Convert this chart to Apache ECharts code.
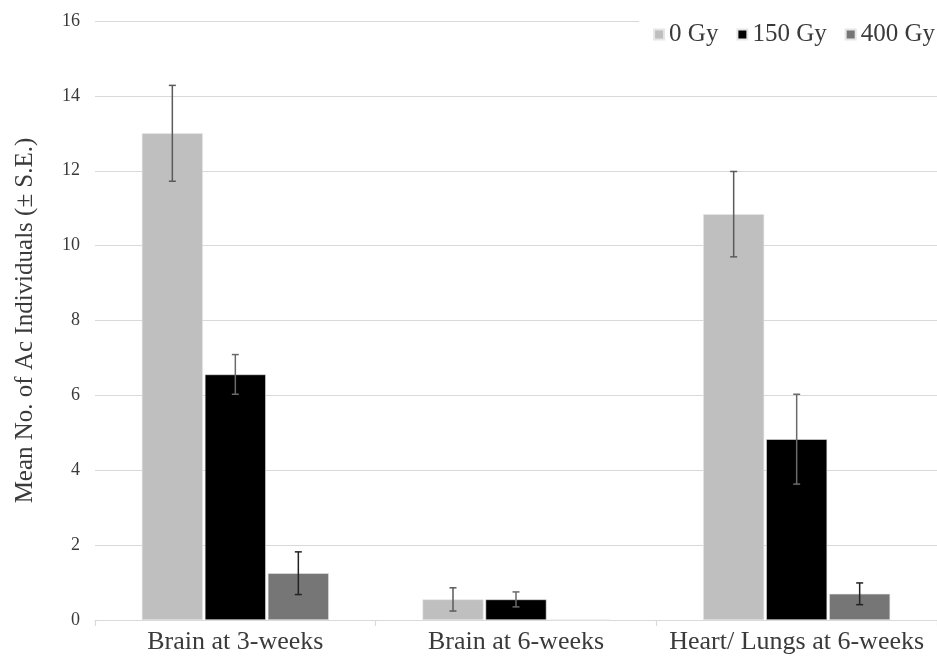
<!DOCTYPE html>
<html><head><meta charset="utf-8">
<script src="https://cdn.jsdelivr.net/npm/echarts@6/dist/echarts.min.js"></script>
<style>html,body{margin:0;padding:0;background:#fff}#c{width:937px;height:664px}</style>
</head><body><div id="c"></div>
<script>
const categories = ['Brain at 3-weeks', 'Brain at 6-weeks', 'Heart/ Lungs at 6-weeks'];
const seriesNames = ['0 Gy', '150 Gy', '400 Gy'];
const values0 = [13.0, 0.55, 10.84];
const values150 = [6.56, 0.55, 4.83];
const values400 = [1.25, 0, 0.70];
const err0 = [1.28, 0.31, 1.14];
const err150 = [0.53, 0.20, 1.20];
const err400 = [0.57, 0, 0.29];
const yTicks = [0, 2, 4, 6, 8, 10, 12, 14, 16];

const colors = ['#bfbfbf', '#000000', '#767676'];
const errColors = ['#5a5a5a', '#6a6a6a', '#222222'];
const vals = [values0, values150, values400];
const errs = [err0, err150, err400];

const chart = echarts.init(document.getElementById('c'));
const BW = 61, GAP = 2;
const series = [];
vals.forEach((v, i) => {
  series.push({
    name: seriesNames[i], type: 'bar', data: v, barWidth: BW, barGap: (GAP / BW * 100) + '%',
    itemStyle: { color: colors[i], borderColor: '#e6e6e6', borderWidth: 0.6 },
    z: 2
  });
});
vals.forEach((v, i) => {
  const data = v.map((val, k) => errs[i][k] > 0 ? [k, val - errs[i][k], val + errs[i][k]] : null).filter(d => d);
  series.push({
    type: 'custom', name: seriesNames[i] + ' err', z: 5, silent: true,
    renderItem: function (params, api) {
      const k = api.value(0);
      const lo = api.coord([k, api.value(1)]);
      const hi = api.coord([k, api.value(2)]);
      const total = 3 * BW + 2 * GAP;
      const x = lo[0] - total / 2 + i * (BW + GAP) + BW / 2;
      const cap = 3.5;
      const st = { stroke: errColors[i], lineWidth: 1.5 };
      return { type: 'group', children: [
        { type: 'line', shape: { x1: x, y1: lo[1], x2: x, y2: hi[1] }, style: st },
        { type: 'line', shape: { x1: x - cap, y1: lo[1], x2: x + cap, y2: lo[1] }, style: st },
        { type: 'line', shape: { x1: x - cap, y1: hi[1], x2: x + cap, y2: hi[1] }, style: st }
      ] };
    },
    encode: { x: 0, y: [1, 2] },
    data: data
  });
});

chart.setOption({
  animation: false,
  backgroundColor: '#fff',
  textStyle: { fontFamily: 'Liberation Serif' },
  legend: {
    data: seriesNames, right: 0, top: 20, itemWidth: 10, itemHeight: 10, itemGap: 18,
    backgroundColor: '#fff', padding: [2, 2, 2, 14],
    textStyle: { fontFamily: 'Liberation Serif', fontSize: 25, color: '#3a3a3a' },
    icon: 'rect'
  },
  grid: { left: 95, top: 21, width: 845, height: 599, containLabel: false },
  xAxis: {
    type: 'category', data: categories,
    axisLine: { lineStyle: { color: '#d9d9d9', width: 1.2 } },
    axisTick: { show: true, length: 6, lineStyle: { color: '#d9d9d9', width: 1.2 } },
    axisLabel: { interval: 0, hideOverlap: false, fontFamily: 'Liberation Serif', fontSize: 26, color: '#3a3a3a', margin: 9 }
  },
  yAxis: {
    type: 'value', min: 0, max: 16, interval: 2,
    name: 'Mean No. of Ac Individuals (± S.E.)', nameLocation: 'middle', nameGap: 57,
    nameTextStyle: { fontFamily: 'Liberation Serif', fontSize: 25, color: '#3a3a3a' },
    axisLine: { show: false }, axisTick: { show: false },
    axisLabel: { fontFamily: 'Liberation Serif', fontSize: 18, color: '#3a3a3a', margin: 15,
      formatter: v => yTicks.includes(v) ? String(v) : '' },
    splitLine: { lineStyle: { color: '#d9d9d9', width: 1.2 } }
  },
  series: series
});
</script></body></html>
